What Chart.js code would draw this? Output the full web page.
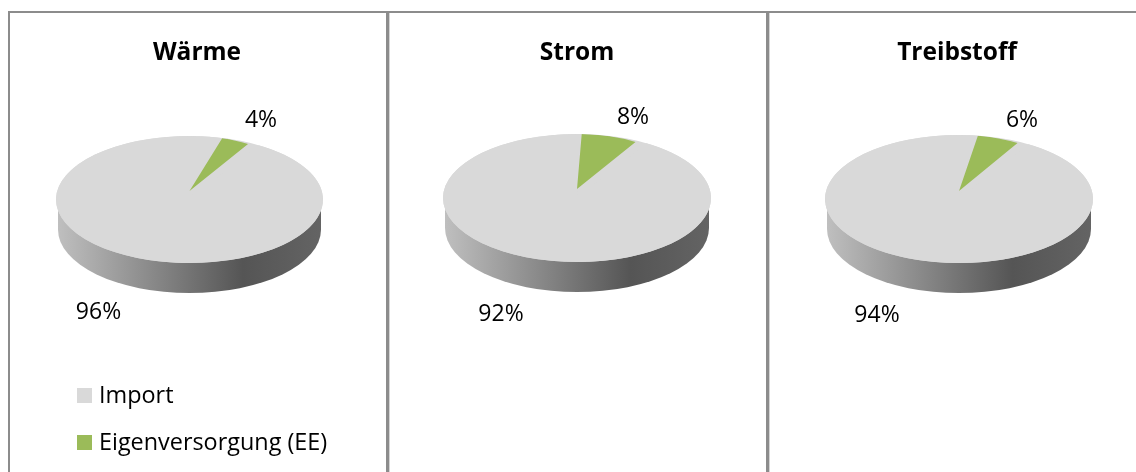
<!DOCTYPE html>
<html>
<head>
<meta charset="utf-8">
<script src="https://cdn.jsdelivr.net/npm/chart.js@4"></script>
<style>
    html, body { margin: 0; padding: 0; background: #fff; overflow: hidden; width: 1136px; height: 472px; }
    .panel { position: absolute; top: 12px; height: 460px; width: 378px; }
    .panel canvas { position: absolute; left: 0; top: 0; }
    .line { position: absolute; background: #8c8c8c; }
    .soft { position: absolute; background: #d4d4d4; }
</style>
</head>
<body>
<div class="line" style="left:8px;top:11px;width:1128px;height:2px"></div>
<div class="line" style="left:8px;top:11px;width:2px;height:461px"></div>
<div class="line" style="left:386px;top:11px;width:3px;height:461px"></div>
<div class="line" style="left:766px;top:11px;width:3px;height:461px"></div>
<div class="soft" style="left:389px;top:13px;width:1px;height:459px"></div>
<div class="soft" style="left:769px;top:13px;width:1px;height:459px"></div>
<div class="panel" style="left:8px"><canvas id="waerme" width="378" height="460"></canvas></div>
<div class="panel" style="left:388px"><canvas id="strom" width="378" height="460"></canvas></div>
<div class="panel" style="left:768px"><canvas id="treibstoff" width="378" height="460"></canvas></div>
<script>
const categories = ['Import', 'Eigenversorgung (EE)'];
const waermeValues = [96, 4];
const stromValues = [92, 8];
const treibstoffValues = [94, 6];

const GREY = '#d9d9d9';
const GREEN = '#9bbb59';
const FONT = '"Open Sans", sans-serif';

// Excel-Torte nachbauen: Ellipse, Seitenwand, Keil mit eigener Spitze (Perspektive)
const pie3d = {
    id: 'pie3d',
    beforeDatasetDraw(chart, args, opts) {
        const ctx = chart.ctx;
        const arcs = chart.getDatasetMeta(0).data;
        const r = arcs[0].outerRadius;
        const cx = opts.cx, cy = opts.cy, rx = opts.rx, ry = opts.ry, depth = opts.depth;

        // Seitenwand
        const wall = ctx.createLinearGradient(cx - rx, 0, cx + rx, 0);
        wall.addColorStop(0, '#c0c0c0');
        wall.addColorStop(0.7, '#555555');
        wall.addColorStop(1, '#646464');
        ctx.save();
        ctx.fillStyle = wall;
        ctx.beginPath();
        ctx.moveTo(cx - rx + 2, cy + 4);
        ctx.ellipse(cx, cy + depth, rx - 2, ry, 0, Math.PI, 0, true);
        ctx.lineTo(cx + rx - 2, cy + 4);
        ctx.closePath();
        ctx.fill();

        // Deckel, damit unter dem Keil keine Luecke bleibt
        ctx.fillStyle = GREY;
        ctx.beginPath();
        ctx.ellipse(cx, cy, rx, ry, 0, 0, Math.PI * 2);
        ctx.fill();
        ctx.restore();

        // Import-Stueck auf die Ellipse
        ctx.save();
        ctx.translate(cx, cy);
        ctx.scale(rx / r, ry / r);
        ctx.translate(-arcs[0].x, -arcs[0].y);
        arcs[0].draw(ctx);
        ctx.restore();

        // Keil um die hoeher liegende Spitze, auf den Deckel begrenzt
        ctx.save();
        ctx.beginPath();
        ctx.ellipse(cx, cy, rx, ry, 0, 0, Math.PI * 2);
        ctx.clip();
        ctx.translate(cx, opts.apexY);
        ctx.scale(opts.wedgeRx / r, (opts.apexY - (cy - ry)) / r);
        ctx.translate(-arcs[1].x, -arcs[1].y);
        arcs[1].draw(ctx);
        ctx.restore();

        return false;
    },
    afterDatasetsDraw(chart, args, opts) {
        const ctx = chart.ctx;
        const values = chart.data.datasets[0].data;
        ctx.save();
        ctx.fillStyle = '#000';
        ctx.font = '23px ' + FONT;
        ctx.textAlign = 'center';
        ctx.textBaseline = 'middle';
        values.forEach((v, i) => {
            ctx.fillText(v + '%', opts.labels[i][0], opts.labels[i][1]);
        });

        // Legende nur im ersten Feld
        if (opts.legend) {
            ctx.textAlign = 'left';
            ctx.font = '23.4px ' + FONT;
            chart.data.labels.forEach((name, i) => {
                const y = opts.legend.y + i * opts.legend.step;
                ctx.fillStyle = chart.data.datasets[0].backgroundColor[i];
                ctx.fillRect(opts.legend.x, y - 7.5, 15, 15);
                ctx.fillStyle = '#000';
                ctx.fillText(name, opts.legend.x + 22, y + 1);
            });
        }
        ctx.restore();
    }
};

function createPie(id, title, values, geo) {
    const ctx = document.getElementById(id).getContext('2d');
    return new Chart(ctx, {
        type: 'pie',
        data: {
            labels: categories,
            datasets: [{
                data: values,
                backgroundColor: [GREY, GREEN],
                borderWidth: 0
            }]
        },
        plugins: [pie3d],
        options: {
            responsive: false,
            animation: false,
            rotation: 31.2,
            plugins: {
                tooltip: { enabled: false },
                legend: { display: false },
                title: {
                    display: true,
                    text: title,
                    color: '#000',
                    font: { family: FONT, size: 24.5, weight: 'bold' },
                    padding: { top: 26, bottom: 10 }
                },
                pie3d: geo
            }
        }
    });
}

createPie('waerme', 'Wärme', waermeValues, {
    cx: 181.5, cy: 187.5, rx: 133.5, ry: 63.5, depth: 30, apexY: 179, wedgeRx: 113,
    labels: [[90.5, 300], [253, 108]], legend: { x: 69, y: 383.5, step: 47 }
});
createPie('strom', 'Strom', stromValues, {
    cx: 189, cy: 186, rx: 134, ry: 64, depth: 30, apexY: 177, wedgeRx: 113,
    labels: [[113, 302], [245, 105]]
});
createPie('treibstoff', 'Treibstoff', treibstoffValues, {
    cx: 191, cy: 187, rx: 134, ry: 64, depth: 30, apexY: 179, wedgeRx: 113,
    labels: [[109, 303], [254, 108]]
});
</script>
</body>
</html>
